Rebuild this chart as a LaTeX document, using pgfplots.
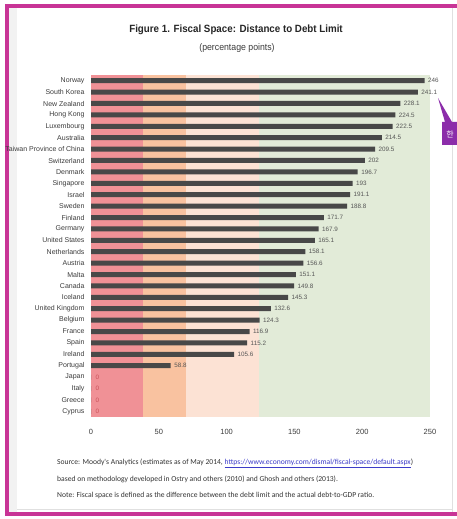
\documentclass[border=0pt]{standalone}
\usepackage{pgfplots}
\pgfplotsset{compat=1.18}
\usepackage{pgfplotstable}
\usepackage{fontspec}
\setmainfont{Liberation Sans}
\newfontfamily\carlito{Carlito}
\newfontfamily\kr{Noto Sans CJK KR}
\definecolor{frame}{RGB}{200,52,150}
\definecolor{bandred}{RGB}{240,145,150}
\definecolor{bandorange}{RGB}{249,194,160}
\definecolor{bandpeach}{RGB}{252,226,212}
\definecolor{bandgreen}{RGB}{226,235,216}
\definecolor{bargrey}{RGB}{72,72,72}
\definecolor{txtgrey}{RGB}{60,60,60}
\definecolor{lblgrey}{RGB}{85,85,85}
\definecolor{zerored}{RGB}{200,80,90}
\definecolor{linkblue}{RGB}{60,60,200}
\definecolor{callout}{RGB}{140,45,170}

\pgfplotstableread{
idx val lab
0 246 246
1 241.1 241.1
2 228.1 228.1
3 224.5 224.5
4 222.5 222.5
5 214.5 214.5
6 209.5 209.5
7 202 202
8 196.7 196.7
9 193 193
10 191.1 191.1
11 188.8 188.8
12 171.7 171.7
13 167.9 167.9
14 165.1 165.1
15 158.1 158.1
16 156.6 156.6
17 151.1 151.1
18 149.8 149.8
19 145.3 145.3
20 132.6 132.6
21 124.3 124.3
22 116.9 116.9
23 115.2 115.2
24 105.6 105.6
25 58.8 58.8
}\mainbars
\pgfplotstableread{
idx val lab
26 0 0
27 0 0
28 0 0
29 0 0
}\zerobars

\begin{document}
\begin{tikzpicture}
\useasboundingbox (0pt,0pt) rectangle (457pt,519pt);
\fill[white] (0pt,0pt) rectangle (457pt,519pt);
\fill[black!5] (9pt,7pt) rectangle (17pt,512pt);
\draw[black!12,line width=0.6pt] (452pt,7pt) -- (452pt,512pt);
\draw[black!12,line width=0.6pt] (17pt,10pt) -- (452pt,10pt);
\draw[frame,line width=4pt] (470pt,513pt) -- (7pt,513pt) -- (7pt,5pt) -- (470pt,5pt);

\node[text=black!85] at (236pt,489pt) {\scalebox{0.93}[1]{\bfseries\fontsize{10.5}{12}\selectfont Figure 1. Fiscal Space: Distance to Debt Limit}};
\node[font=\fontsize{9.5}{11}\selectfont,text=txtgrey] at (237pt,471pt) {\scalebox{0.92}[1]{(percentage points)}};

\begin{axis}[
  at={(91pt,102pt)}, anchor=south west,
  width=339pt, height=342pt, scale only axis,
  xmin=0, xmax=250, ymin=-0.5, ymax=29.5,
  y dir=reverse,
  axis line style={draw=none},
  major tick length=0pt,
  xtick={0,50,100,150,200,250},
  ytick={0,...,29},
  yticklabels={Norway,South Korea,New Zealand,Hong Kong,Luxembourg,Australia,Taiwan Province of China,Switzerland,Denmark,Singapore,Israel,Sweden,Finland,Germany,United States,Netherlands,Austria,Malta,Canada,Iceland,United Kingdom,Belgium,France,Spain,Ireland,Portugal,Japan,Italy,Greece,Cyprus},
  /pgf/number format/assume math mode=true,
  xticklabel style={font=\fontsize{7.5}{8}\selectfont,text=txtgrey,yshift=-9pt},
  yticklabel style={font=\fontsize{7}{8}\selectfont,text=txtgrey,xshift=-3pt},
  xbar, bar width=5pt, bar shift=0pt,
  clip=false,
]
\fill[bandred] (axis cs:0,-0.5) rectangle (axis cs:38,29.5);
\fill[bandorange] (axis cs:38,-0.5) rectangle (axis cs:70,29.5);
\fill[bandpeach] (axis cs:70,-0.5) rectangle (axis cs:124,29.5);
\fill[bandgreen] (axis cs:124,-0.5) rectangle (axis cs:250,29.5);
\addplot[fill=bargrey, draw=none,
  nodes near coords, point meta=explicit symbolic,
  nodes near coords style={font=\fontsize{6.3}{7}\selectfont,text=lblgrey,anchor=west,xshift=0pt}]
  table[x=val,y=idx,meta=lab] {\mainbars};
\addplot[fill=bargrey, draw=none,
  nodes near coords, point meta=explicit symbolic,
  nodes near coords style={font=\fontsize{6.3}{7}\selectfont,text=zerored,anchor=west,xshift=1pt}]
  table[x=val,y=idx,meta=lab] {\zerobars};
\end{axis}

\begin{scope}[font=\carlito\fontsize{7.6}{9}\selectfont,text=black!80]
\node[anchor=west,inner sep=0pt] at (57pt,56pt) {Source: Moody's Analytics (estimates as of May 2014, \textcolor{linkblue}{\underline{https://www.economy.com/dismal/fiscal-space/default.aspx}})};
\node[anchor=west,inner sep=0pt] at (57pt,40pt) {based on methodology developed in Ostry and others (2010) and Ghosh and others (2013).};
\node[anchor=west,inner sep=0pt] at (57pt,24pt) {Note: Fiscal space is defined as the difference between the debt limit and the actual debt-to-GDP ratio.};
\end{scope}

\fill[callout] (438pt,421pt) -- (452pt,397pt) -- (470pt,397pt) -- (470pt,374pt) -- (442pt,374pt) -- (442pt,397pt) -- (445pt,397pt) -- cycle;
\node[text=white,font=\kr\fontsize{8}{8}\selectfont,inner sep=0pt] at (450pt,385pt) {한};
\end{tikzpicture}
\end{document}
